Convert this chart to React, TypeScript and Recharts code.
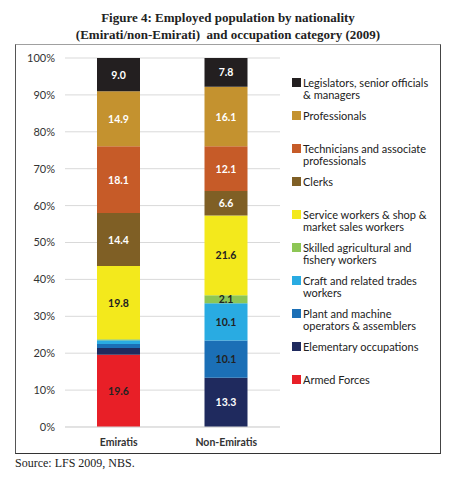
import { BarChart, Bar, XAxis, YAxis, CartesianGrid, LabelList } from "recharts";

const categories = ["Emiratis", "Non-Emiratis"];

// bottom of the stack first
const occupations = [
  "Armed Forces",
  "Elementary occupations",
  "Plant and machine operators & assemblers",
  "Craft and related trades workers",
  "Skilled agricultural and fishery workers",
  "Service workers & shop & market sales workers",
  "Clerks",
  "Technicians and associate professionals",
  "Professionals",
  "Legislators, senior officials & managers",
];

const emiratiValues = [19.6, 1.8, 1.1, 1.0, 0.3, 19.8, 14.4, 18.1, 14.9, 9.0];
const nonEmiratiValues = [0, 13.3, 10.1, 10.1, 2.1, 21.6, 6.6, 12.1, 16.1, 7.8];

const colors = [
  "#e81f27",
  "#1f2a5e",
  "#1b6fb6",
  "#29abe2",
  "#8dc655",
  "#f3e91c",
  "#7f5f25",
  "#c65b28",
  "#c4922f",
  "#231f20",
];
const labelColors = ["#222", "#fff", "#222", "#222", "#222", "#222", "#fff", "#fff", "#fff", "#fff"];

const yTicks = [0, 0.1, 0.2, 0.3, 0.4, 0.5, 0.6, 0.7, 0.8, 0.9, 1];

const seriesKeys = occupations.map((_, i) => `s${i}`);

const data = categories.map((name, c) => {
  const row: Record<string, string | number> = { name };
  const vals = c === 0 ? emiratiValues : nonEmiratiValues;
  seriesKeys.forEach((k, i) => (row[k] = vals[i]));
  return row;
});

const font = "Lato, 'Open Sans', sans-serif";

function SegmentLabel(props: any, color: string) {
  const { x, y, width, height, value } = props;
  if (value == null || value < 2) return null;
  return (
    <text
      x={x + width / 2}
      y={y + height / 2}
      textAnchor="middle"
      dominantBaseline="central"
      fill={color}
      fontSize={10.5}
      fontWeight={700}
      fontFamily={font}
    >
      {Number(value).toFixed(1)}
    </text>
  );
}

function LegendBox() {
  const order = occupations.map((_, i) => i).reverse();
  return (
    <div
      style={{
        position: "absolute",
        left: 292,
        top: 77,
        fontFamily: font,
        fontSize: 11,
        color: "#222",
        lineHeight: "11.5px",
      }}
    >
      {order.map((i) => (
        <div key={i} style={{ display: "flex", height: 33, alignItems: "flex-start" }}>
          <span
            style={{
              width: 9,
              height: 9,
              background: colors[i],
              marginTop: 1,
              marginRight: 2,
              flex: "none",
            }}
          />
          <span style={{ width: 132 }}>{occupations[i]}</span>
        </div>
      ))}
    </div>
  );
}

export default function App() {
  return (
    <div style={{ position: "absolute", left: 0, top: 0, width: 460, height: 486, background: "#fff" }}>
      <div
        style={{
          position: "absolute",
          left: 0,
          top: 9,
          width: 456,
          textAlign: "center",
          fontFamily: "'Liberation Serif', serif",
          fontWeight: 700,
          fontSize: 13,
          lineHeight: "17px",
          color: "#222",
        }}
      >
        Figure 4: Employed population by nationality
        <br />
        (Emirati/non-Emirati)&nbsp; and occupation category (2009)
      </div>
      <div
        style={{
          position: "absolute",
          left: 15,
          top: 44,
          width: 424,
          height: 408,
          borderTop: "1px solid #a0a0a0",
          borderLeft: "1px solid #555",
          borderRight: "1.5px solid #444",
          borderBottom: "1.5px solid #333",
        }}
      />
      <div style={{ position: "absolute", left: 0, top: 0 }}>
        <BarChart
          width={460}
          height={486}
          data={data}
          stackOffset="expand"
          barSize={43}
          margin={{ top: 58, right: 180, bottom: 29, left: 20 }}
        >
          <CartesianGrid vertical={false} stroke="#d9d9d9" />
          <XAxis
            dataKey="name"
            height={30}
            axisLine={{ stroke: "#d9d9d9" }}
            tickLine={false}
            tick={{ fontSize: 10.5, fontWeight: 700, fill: "#333", fontFamily: font }}
            tickMargin={6}
          />
          <YAxis
            width={45}
            domain={[0, 1]}
            ticks={yTicks}
            tickFormatter={(v: number) => `${Math.round(v * 100)}%`}
            axisLine={false}
            tickLine={false}
            tick={{ fontSize: 11, fill: "#333", fontFamily: font }}
            tickMargin={4}
          />
          {seriesKeys.map((k, i) => (
            <Bar key={k} dataKey={k} name={occupations[i]} stackId="a" fill={colors[i]} isAnimationActive={false}>
              <LabelList dataKey={k} content={(p: any) => SegmentLabel(p, labelColors[i])} />
            </Bar>
          ))}
        </BarChart>
      </div>
      <LegendBox />
      <div
        style={{
          position: "absolute",
          left: 15,
          top: 456,
          fontFamily: "'Liberation Serif', serif",
          fontSize: 12,
          color: "#222",
        }}
      >
        Source: LFS 2009, NBS.
      </div>
    </div>
  );
}
